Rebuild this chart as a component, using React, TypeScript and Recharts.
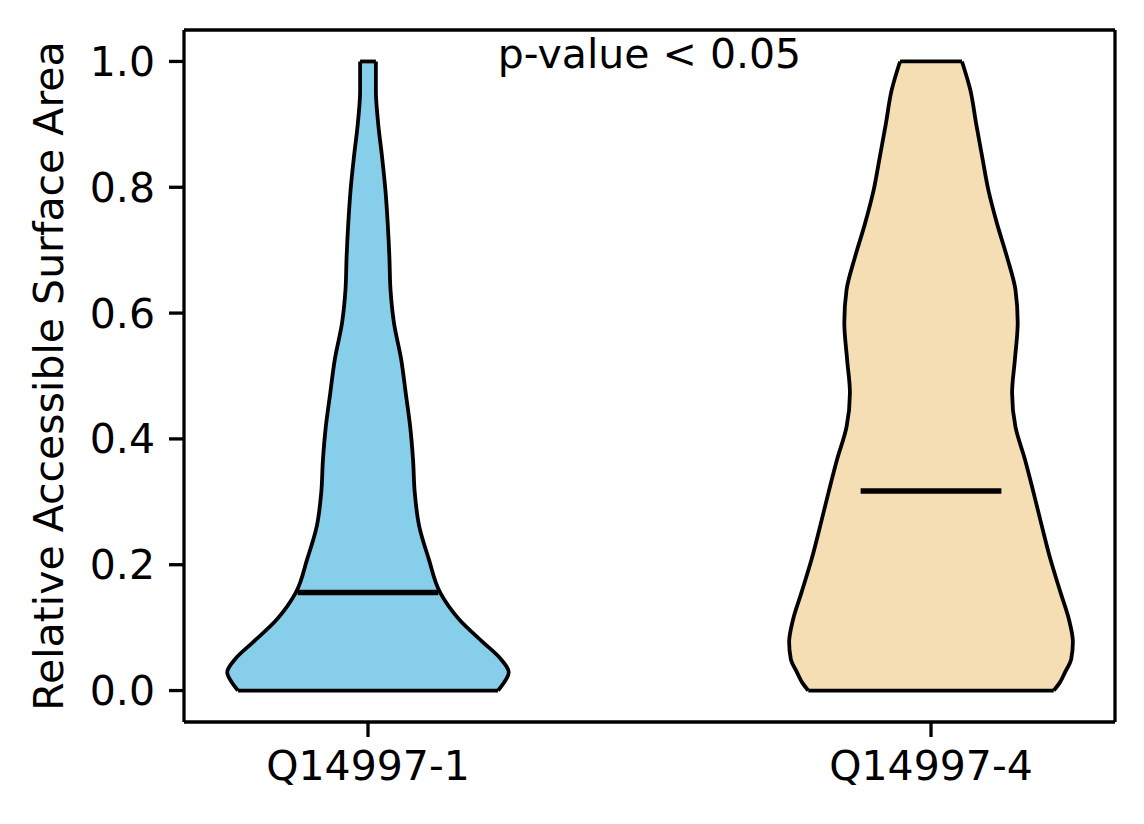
import React from 'react';
import { ComposedChart, Area, XAxis, YAxis, ReferenceLine } from 'recharts';

// Relative ASA levels (shared grid for both violins)
const levels = [0, 0.013, 0.029, 0.05, 0.077, 0.113, 0.156, 0.209, 0.261, 0.315, 0.367, 0.419, 0.473, 0.526, 0.585, 0.637, 0.689, 0.743, 0.795, 0.848, 0.902, 0.954, 1.0];

// Half-widths of density (x-units) for each violin
const halfWidth1 = [0.231, 0.242, 0.25, 0.236, 0.204, 0.162, 0.128, 0.108, 0.091, 0.083, 0.08, 0.075, 0.067, 0.059, 0.046, 0.04, 0.038, 0.035, 0.031, 0.025, 0.018, 0.014, 0.014];
const halfWidth2 = [0.218, 0.229, 0.238, 0.249, 0.252, 0.245, 0.23, 0.212, 0.197, 0.182, 0.167, 0.15, 0.144, 0.149, 0.154, 0.15, 0.135, 0.117, 0.102, 0.091, 0.08, 0.07, 0.055];

const categories = ['Q14997-1', 'Q14997-4'];
const positions = [1, 2];
const medians = [0.156, 0.317];
const medianHalf = 0.125;
const yTicks = [0, 0.2, 0.4, 0.6, 0.8, 1.0];
const fills = ['#87CEEB', '#F5DEB3'];

const data = levels.map((y, i) => ({
  y,
  v1: [positions[0] - halfWidth1[i], positions[0] + halfWidth1[i]],
  v2: [positions[1] - halfWidth2[i], positions[1] + halfWidth2[i]],
}));

const halves = [halfWidth1, halfWidth2];
const xDomain: [number, number] = [0.6732, 2.3268];
const yDomain: [number, number] = [-0.05, 1.05];
const FONT = 'DejaVu Sans';
const FS = 41;
const SPINE = 3.3;
const EDGE = 3.8;

export default function App() {
  const last = levels.length - 1;
  return (
    <div style={{ position: 'absolute', left: 0, top: 0, width: 1144, height: 824, background: '#fff' }}>
      <ComposedChart
        width={1144}
        height={824}
        layout="vertical"
        data={data}
        margin={{ top: 29, right: 28, bottom: 0, left: 0 }}
        style={{ fontFamily: FONT }}
      >
        <XAxis
          type="number"
          domain={xDomain}
          ticks={positions}
          tickFormatter={(v: number) => categories[positions.indexOf(v)] ?? ''}
          height={102}
          tickSize={15}
          tickMargin={14}
          axisLine={{ stroke: '#000', strokeWidth: SPINE }}
          tickLine={{ stroke: '#000', strokeWidth: SPINE }}
          tick={{ fill: '#000', fontSize: FS, fontFamily: FONT }}
          allowDataOverflow
        />
        <XAxis
          xAxisId="top"
          orientation="top"
          type="number"
          domain={xDomain}
          height={1}
          ticks={positions}
          tick={false}
          tickLine={false}
          axisLine={{ stroke: '#000', strokeWidth: SPINE }}
          allowDataOverflow
          label={{ value: 'p-value < 0.05', position: 'bottom', offset: 9, fill: '#000', fontSize: FS, fontFamily: FONT }}
        />
        <YAxis
          type="number"
          dataKey="y"
          reversed
          domain={yDomain}
          ticks={yTicks}
          tickFormatter={(v: number) => v.toFixed(1)}
          width={184}
          tickSize={15}
          tickMargin={14}
          axisLine={{ stroke: '#000', strokeWidth: SPINE }}
          tickLine={{ stroke: '#000', strokeWidth: SPINE }}
          tick={{ fill: '#000', fontSize: FS, fontFamily: FONT }}
          allowDataOverflow
          label={{
            value: 'Relative Accessible Surface Area',
            angle: -90,
            position: 'insideLeft',
            offset: 48,
            fill: '#000',
            fontSize: FS,
            fontFamily: FONT,
            style: { textAnchor: 'middle' },
          }}
        />
        <YAxis
          yAxisId="right"
          orientation="right"
          type="number"
          dataKey="y"
          reversed
          domain={yDomain}
          ticks={yTicks}
          width={1}
          tick={false}
          tickLine={false}
          axisLine={{ stroke: '#000', strokeWidth: SPINE }}
          allowDataOverflow
        />
        <Area
          dataKey="v1"
          type="monotone"
          fill={fills[0]}
          fillOpacity={1}
          stroke="#000"
          strokeWidth={EDGE}
          dot={false}
          activeDot={false}
          isAnimationActive={false}
        />
        <Area
          dataKey="v2"
          type="monotone"
          fill={fills[1]}
          fillOpacity={1}
          stroke="#000"
          strokeWidth={EDGE}
          dot={false}
          activeDot={false}
          isAnimationActive={false}
        />
        {positions.map((p, i) => (
          <ReferenceLine
            key={`bot-${i}`}
            segment={[
              { x: p - halves[i][0], y: levels[0] },
              { x: p + halves[i][0], y: levels[0] },
            ]}
            stroke="#000"
            strokeWidth={EDGE}
          />
        ))}
        {positions.map((p, i) => (
          <ReferenceLine
            key={`top-${i}`}
            segment={[
              { x: p - halves[i][last], y: levels[last] },
              { x: p + halves[i][last], y: levels[last] },
            ]}
            stroke="#000"
            strokeWidth={EDGE}
          />
        ))}
        {positions.map((p, i) => (
          <ReferenceLine
            key={`med-${i}`}
            segment={[
              { x: p - medianHalf, y: medians[i] },
              { x: p + medianHalf, y: medians[i] },
            ]}
            stroke="#000"
            strokeWidth={5.5}
          />
        ))}
      </ComposedChart>
    </div>
  );
}
